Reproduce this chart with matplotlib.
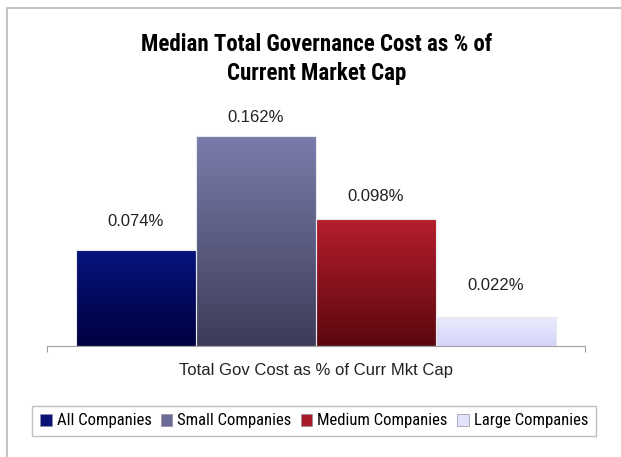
import matplotlib.pyplot as plt
import numpy as np
from matplotlib.colors import LinearSegmentedColormap
from matplotlib.patches import Rectangle, Patch

groups = ["All Companies", "Small Companies", "Medium Companies", "Large Companies"]
values = [0.074, 0.162, 0.098, 0.022]
labels = ["0.074%", "0.162%", "0.098%", "0.022%"]
category = "Total Gov Cost as % of Curr Mkt Cap"

# top / bottom colours of each bar's gradient
grad_top = ["#06147c", "#7b7cab", "#b51e2d", "#ebebfc"]
grad_bot = ["#000040", "#3c3c58", "#5a080f", "#d3d3fa"]
legend_colors = ["#0a1278", "#6a6b96", "#a81a26", "#e2e2fa"]
# how far each value label sits above its bar, in pixels
label_gap = [29, 18, 22, 32]

narrow = ["Roboto Condensed", "Archivo Narrow", "PT Sans Narrow", "DejaVu Sans"]
plain = ["Liberation Sans", "DejaVu Sans"]

W, H = 621, 457
fig = plt.figure(figsize=(W / 100, H / 100), dpi=100)

# outer chart frame
fig.patches.append(Rectangle((7 / W, -0.1), 1.2, 1 - 8 / H + 0.1, transform=fig.transFigure,
                             fill=False, edgecolor="#b8b8b8", linewidth=1.2))

ax = fig.add_axes([47 / W, (H - 346) / H, 538 / W, 240 / H])
x = np.arange(len(values))
xmin, xmax = -0.5 - 29 / 120, 3.5 + 29 / 120
ax.set_xlim(xmin, xmax)
ax.set_ylim(0, 240 / 1297)

bars = ax.bar(x, values, width=1.0, color="none", edgecolor="#e8e8f0", linewidth=0.8, zorder=3)
for b, top, bot in zip(bars, grad_top, grad_bot):
    cmap = LinearSegmentedColormap.from_list("g", [bot, top])
    grad = np.linspace(0, 1, 256).reshape(-1, 1)
    bx, bw, bh = b.get_x(), b.get_width(), b.get_height()
    im = ax.imshow(grad, cmap=cmap, origin="lower", aspect="auto",
                   extent=(bx, bx + bw, 0, bh), zorder=2)
    im.set_clip_path(b)

for xi, v, lab, gap in zip(x, values, labels, label_gap):
    ax.annotate(lab, (xi, v), xytext=(0, gap * 0.72), textcoords="offset points",
                ha="center", va="center", fontsize=12, color="#222222", family=plain)

for s in ["top", "right", "left"]:
    ax.spines[s].set_visible(False)
ax.spines["bottom"].set_color("#a0a0a0")
ax.set_xticks([xmin, xmax])
ax.set_xticklabels(["", ""])
ax.tick_params(axis="x", direction="out", length=4, color="#a0a0a0")
ax.set_yticks([])
ax.text(0.5, -24 / 240, category, transform=ax.transAxes, ha="center", va="center",
        fontsize=12, color="#222222", family=plain)

fig.text(317 / W, 1 - 59 / H, "Median Total Governance Cost as % of\nCurrent Market Cap",
         ha="center", va="center", fontsize=16.5, fontweight="bold", family=narrow,
         linespacing=1.3)

handles = [Patch(facecolor=c, edgecolor="#9090a0", linewidth=0.5) for c in legend_colors]
leg = fig.legend(handles, groups, loc="center", bbox_to_anchor=(314 / W, 1 - 421 / H),
                 ncol=4, frameon=True, fancybox=False, handlelength=0.7, handleheight=0.7,
                 handletextpad=0.3, columnspacing=0.55, borderpad=0.45,
                 prop={"family": narrow, "size": 12})
leg.get_frame().set_edgecolor("#b0b0b0")
leg.get_frame().set_linewidth(1.0)

fig.savefig("out.png", dpi=100)
